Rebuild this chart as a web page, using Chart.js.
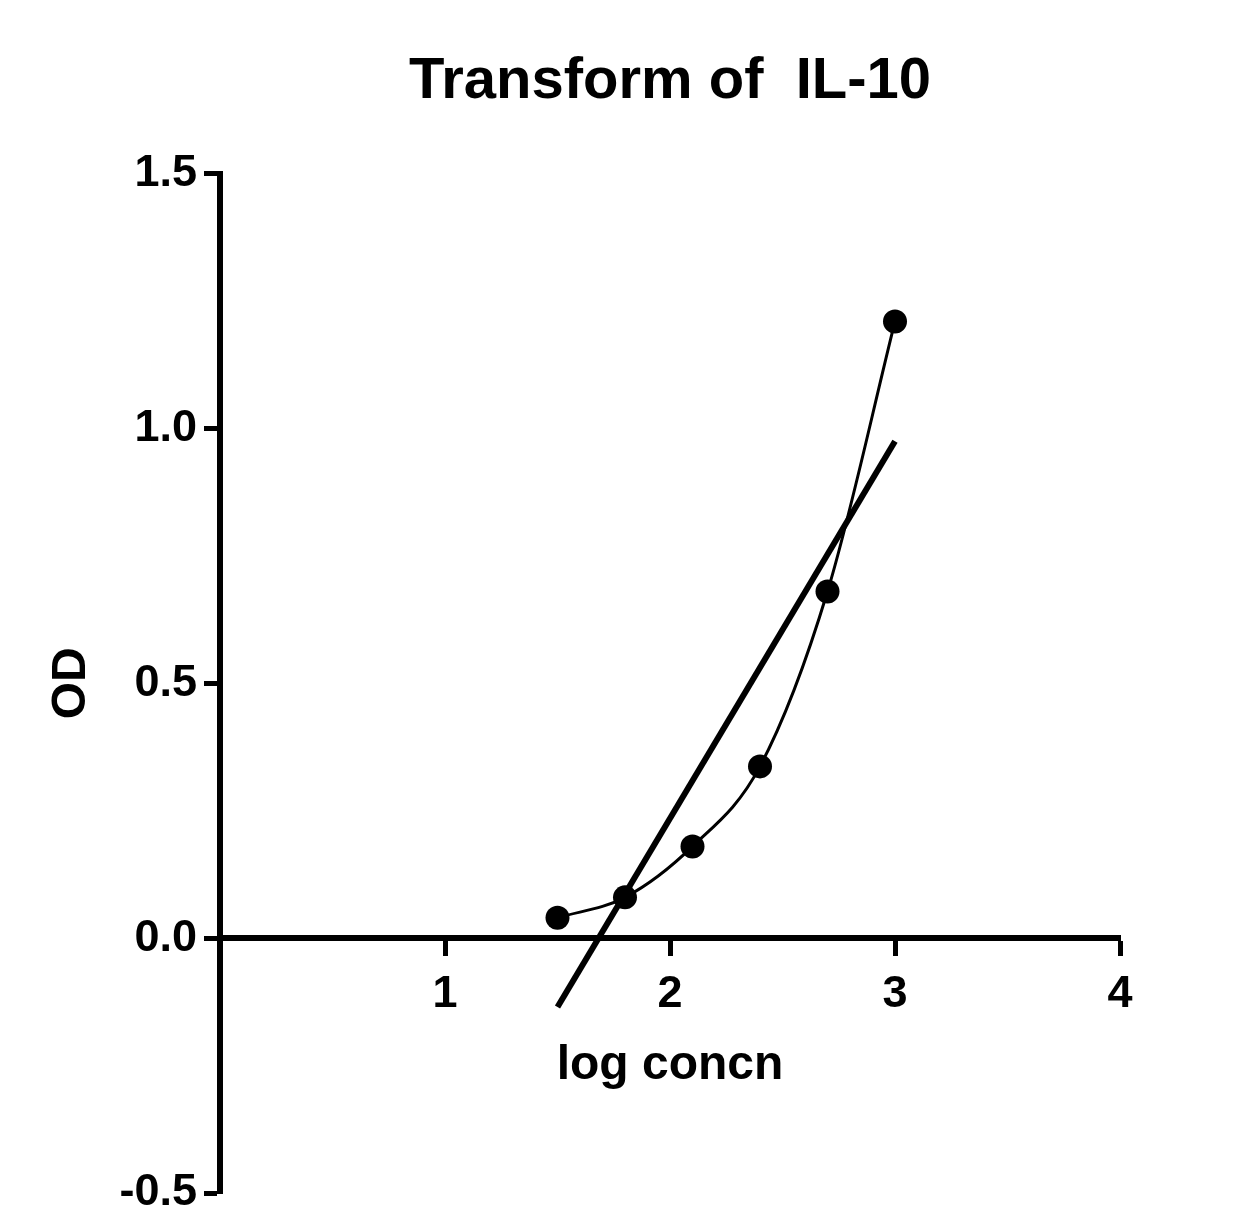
<!DOCTYPE html>
<html>
<head>
<meta charset="utf-8">
<title>Transform of IL-10</title>
<script src="https://cdn.jsdelivr.net/npm/chart.js@4.4.1/dist/chart.umd.min.js"></script>
<style>
  html, body { margin: 0; padding: 0; background: #fff; }
  #wrap { width: 1259px; height: 1227px; }
</style>
</head>
<body>
<div id="wrap"><canvas id="odChart"></canvas></div>
<script>
// measured points (log concentration vs OD)
const logConc = [1.5, 1.8, 2.1, 2.4, 2.7, 3.0];
const odValues = [0.04, 0.08, 0.18, 0.337, 0.68, 1.21];

// straight line fit, read at its two ends
const fitX = [1.5, 3.0];
const fitY = [-0.135, 0.975];

// tick labels
const xTicks = [1, 2, 3, 4];
const yTicks = [-0.5, 0.0, 0.5, 1.0, 1.5];

const FONT = "'Liberation Sans', Arial, sans-serif";

const pointData = logConc.map((x, i) => ({ x: x, y: odValues[i] }));
const fitData = fitX.map((x, i) => ({ x: x, y: fitY[i] }));

const ctx = document.getElementById("odChart").getContext("2d");

new Chart(ctx, {
    type: "line",
    data: {
        datasets: [
            {
                label: "fit",
                data: fitData,
                borderColor: "#000",
                borderWidth: 6,
                pointRadius: 0,
                tension: 0
            },
            {
                label: "OD",
                data: pointData,
                borderColor: "#000",
                backgroundColor: "#000",
                borderWidth: 3,
                cubicInterpolationMode: "monotone",
                pointRadius: 12,
                pointBorderWidth: 0,
                pointBackgroundColor: "#000"
            }
        ]
    },
    options: {
        responsive: true,
        maintainAspectRatio: false,
        animation: false,
        layout: {
            padding: { left: 0, right: 139, top: 0, bottom: -119 }
        },
        plugins: {
            legend: { display: false },
            tooltip: { enabled: false },
            title: {
                display: true,
                fullSize: false,
                text: "Transform of  IL-10",
                color: "#000",
                font: { family: FONT, size: 58, weight: "bold", lineHeight: 1.2 },
                padding: { top: 47, bottom: 57 }
            }
        },
        scales: {
            x: {
                type: "linear",
                position: { y: 0 },
                min: 0,
                max: 4,
                afterBuildTicks: scale => {
                    scale.ticks = [0].concat(xTicks).map(v => ({ value: v }));
                },
                ticks: {
                    color: "#000",
                    padding: 14,
                    font: { family: FONT, size: 45, weight: "bold" },
                    callback: v => (v === 0 ? "" : String(v))
                },
                grid: {
                    drawOnChartArea: false,
                    drawTicks: true,
                    tickLength: 15,
                    tickWidth: 5,
                    tickColor: "#000"
                },
                border: { display: true, color: "#000", width: 6 },
                title: {
                    display: true,
                    text: "log concn",
                    color: "#000",
                    font: { family: FONT, size: 48, weight: "bold", lineHeight: 1.2 },
                    padding: { top: 2, bottom: 0 }
                }
            },
            y: {
                type: "linear",
                position: "left",
                min: -0.5,
                max: 1.5,
                afterFit: scale => { scale.width = 220; },
                afterBuildTicks: scale => {
                    scale.ticks = yTicks.map(v => ({ value: v }));
                },
                ticks: {
                    color: "#000",
                    padding: 7,
                    font: { family: FONT, size: 45, weight: "bold" },
                    callback: v => Number(v).toFixed(1)
                },
                grid: {
                    drawOnChartArea: false,
                    drawTicks: true,
                    tickLength: 16,
                    tickWidth: 5,
                    tickColor: "#000"
                },
                border: { display: true, color: "#000", width: 6 },
                title: {
                    display: true,
                    text: "OD",
                    color: "#000",
                    font: { family: FONT, size: 48, weight: "bold", lineHeight: 1.2 },
                    padding: { top: 43, bottom: 0 }
                }
            }
        }
    }
});
</script>
</body>
</html>
